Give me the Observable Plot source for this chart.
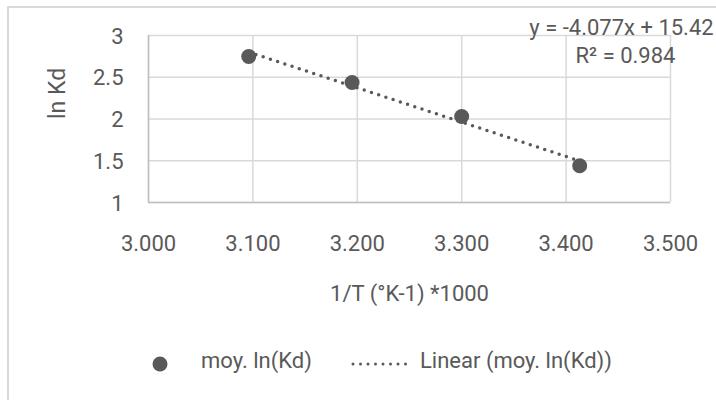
<!DOCTYPE html>
<html><head><meta charset="utf-8">
<script src="https://cdn.jsdelivr.net/npm/d3@7"></script>
<script src="https://cdn.jsdelivr.net/npm/@observablehq/plot@0.6"></script>
<style>
html,body{margin:0;padding:0;background:#fff;overflow:hidden;width:716px;height:400px}
#chart{position:relative;width:716px;height:400px;font-family:Roboto,sans-serif;color:#595959;overflow:hidden}
#border{position:absolute;left:7px;top:6px;width:800px;height:500px;border:2px solid #d9d9d9;box-sizing:border-box}
#plot{position:absolute;left:0;top:0}
#legend{position:absolute;left:0;top:320px;width:716px;height:80px;font-size:22px}
#legend span{position:absolute;white-space:nowrap;line-height:26px}
#legend svg{position:absolute}
</style></head>
<body>
<div id="chart"><div id="border"></div><div id="plot"></div><div id="legend"></div></div>
<script>
const invT = [3.096, 3.195, 3.300, 3.413];
const lnKd = [2.748, 2.437, 2.030, 1.440];
const xTicks = [3.0, 3.1, 3.2, 3.3, 3.4, 3.5];
const yTicks = [1, 1.5, 2, 2.5, 3];
const xTitle = "1/T (°K-1) *1000";
const yTitle = "ln Kd";
const eqLine = "y = -4.077x + 15.42";
const r2Line = "R² = 0.984";
const seriesName = "moy. ln(Kd)";
const trendName = "Linear (moy. ln(Kd))";

const data = invT.map((x, i) => ({x, y: lnKd[i]}));
const grey = "#595959";

const chart = Plot.plot({
  width: 716, height: 320,
  marginLeft: 148, marginRight: 46, marginTop: 35, marginBottom: 118,
  style: {fontFamily: "Roboto, sans-serif", fontSize: "22px", color: grey, background: "transparent", overflow: "visible"},
  x: {domain: [3.0, 3.5]},
  y: {domain: [1, 3]},
  marks: [
    Plot.gridX(xTicks, {stroke: "#d9d9d9", strokeOpacity: 1, strokeWidth: 1.5}),
    Plot.gridY(yTicks, {stroke: "#d9d9d9", strokeOpacity: 1, strokeWidth: 1.5}),
    Plot.ruleX([xTicks[0]], {stroke: "#bfbfbf", strokeWidth: 1.5}),
    Plot.ruleY([yTicks[0]], {stroke: "#bfbfbf", strokeWidth: 1.5}),
    Plot.axisX({ticks: xTicks, tickSize: 0, tickPadding: 33, tickFormat: d3.format(".3f"), label: null}),
    Plot.axisY({ticks: yTicks, tickSize: 0, tickPadding: 25, tickFormat: d => String(d), label: null, dy: 1}),
    Plot.text([xTitle], {text: d => d, frameAnchor: "bottom", dy: 98}),
    Plot.text([yTitle], {text: d => d, frameAnchor: "left", dx: -91, rotate: -90, fontSize: 23}),
    Plot.linearRegressionY(data, {x: "x", y: "y", ci: 0, stroke: grey, strokeWidth: 3.5, strokeDasharray: "0 7.6", strokeLinecap: "round"}),
    Plot.dot(data, {x: "x", y: "y", r: 7.5, fill: grey, stroke: "none"}),
    Plot.text([eqLine], {text: d => d, frameAnchor: "top-right", dx: -49, dy: -16.5, textAnchor: "middle"}),
    Plot.text([r2Line], {text: d => d, frameAnchor: "top-right", dx: -45, dy: 12, textAnchor: "middle"})
  ]
});
document.getElementById("plot").appendChild(chart);

// legend
const lg = document.getElementById("legend");
const cy = 42; // center y inside legend
lg.innerHTML = `
<svg style="left:152px;top:${cy - 8 + 2}px" width="16" height="16"><circle cx="8" cy="8" r="7.5" fill="${grey}"/></svg>
<span style="left:201px;top:${cy - 14}px">${seriesName}</span>
<svg style="left:350px;top:${cy - 4 + 2}px" width="66" height="8"><line x1="3" y1="4" x2="63" y2="4" stroke="${grey}" stroke-width="3" stroke-dasharray="0 7.5" stroke-linecap="round"/></svg>
<span style="left:420px;top:${cy - 14}px">${trendName}</span>`;
</script>
</body></html>
